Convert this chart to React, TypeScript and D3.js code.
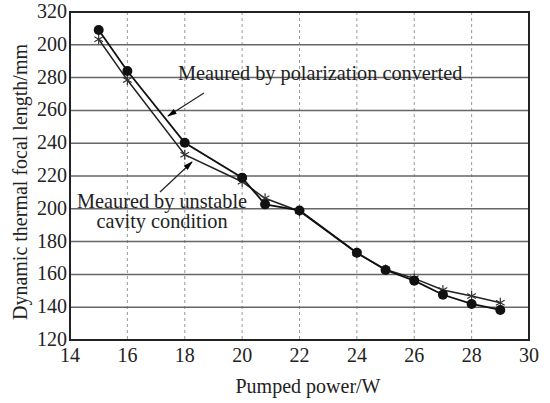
import React from "react";
import * as d3 from "d3";

const powerCircle = [15, 16, 18, 20, 20.8, 22, 24, 25, 26, 27, 28, 29];
const focalPolarization = [309, 284, 240.3, 219, 202.7, 199, 173.2, 162.7, 156.2, 147.6, 142, 138.3];
const powerStar = [15, 16, 18, 20, 20.8, 22, 24, 25, 26, 27, 28, 29];
const focalUnstable = [303.4, 278.5, 233, 216.5, 206.4, 198.5, 173, 163, 157.6, 150.5, 146.8, 142.7];
const xTicks = [14, 16, 18, 20, 22, 24, 26, 28, 30];
const yTicks = [120, 140, 160, 180, 200, 220, 240, 260, 280, 300, 320];
const yTickLabels = ["120", "140", "160", "180", "200", "220", "240", "260", "280", "200", "320"];

export default function App() {
  const W = 550, H = 403;
  const left = 70, right = 529, top = 12, bottom = 340;
  const x = d3.scaleLinear().domain([14, 30]).range([left, right]);
  const y = d3.scaleLinear().domain([120, 320]).range([bottom, top]);
  const line = d3.line<[number, number]>().x(d => x(d[0])).y(d => y(d[1]));
  const circ = powerCircle.map((p, i) => [p, focalPolarization[i]] as [number, number]);
  const star = powerStar.map((p, i) => [p, focalUnstable[i]] as [number, number]);
  const starPath = d3.symbol().type(d3.symbolAsterisk).size(70)() as string;
  const font = "Liberation Serif, Times New Roman, serif";
  const fs = 20;
  const fa = 20.3;
  return (
    <svg width={W} height={H} style={{ position: "absolute", left: 0, top: 0, fontFamily: font }}>
      <defs>
        <marker id="ah" viewBox="0 0 10 10" refX="9" refY="5" markerWidth="8" markerHeight="8" orient="auto">
          <path d="M0,2 L10,5 L0,8 Z" fill="#000" />
        </marker>
      </defs>
      <rect x={0} y={0} width={W} height={H} fill="#fff" />
      {xTicks.slice(1, -1).map(t => (
        <line key={"vx" + t} x1={x(t)} x2={x(t)} y1={top} y2={bottom} stroke="#999" strokeWidth={1} strokeDasharray="3,3" />
      ))}
      {yTicks.slice(1, -1).map(t => (
        <line key={"hy" + t} x1={left} x2={right} y1={y(t)} y2={y(t)} stroke="#666" strokeWidth={1.5} />
      ))}
      <rect x={left} y={top} width={right - left} height={bottom - top} fill="none" stroke="#222" strokeWidth={2} />
      {yTicks.map((t, i) => (
        <text key={"yl" + t} x={left - 3} y={y(t) - 1} dy="0.35em" textAnchor="end" fontSize={fs} fill="#222">{yTickLabels[i]}</text>
      ))}
      {xTicks.map(t => (
        <text key={"xl" + t} x={x(t)} y={362} textAnchor="middle" fontSize={fs} fill="#222">{t}</text>
      ))}
      <text x={308} y={393} textAnchor="middle" fontSize={fs} fill="#222">Pumped power/W</text>
      <text transform={`translate(27,182) rotate(-90)`} textAnchor="middle" fontSize={fs} fill="#222">Dynamic thermal focal length/mm</text>
      <path d={line(star) as string} fill="none" stroke="#222" strokeWidth={1.5} />
      <path d={line(circ) as string} fill="none" stroke="#111" strokeWidth={1.8} />
      {star.map((d, i) => (
        <path key={"s" + i} d={starPath} transform={`translate(${x(d[0])},${y(d[1])})`} fill="none" stroke="#333" strokeWidth={1.2} />
      ))}
      {circ.map((d, i) => (
        <circle key={"c" + i} cx={x(d[0])} cy={y(d[1])} r={5} fill="#111" />
      ))}
      <text x={178} y={80} fontSize={fa} fill="#222">Meaured by polarization converted</text>
      <line x1={204} y1={93} x2={168} y2={116} stroke="#222" strokeWidth={1.2} markerEnd="url(#ah)" />
      <text x={162} y={208} textAnchor="middle" fontSize={fa} fill="#222">Meaured by unstable</text>
      <text x={162} y={228} textAnchor="middle" fontSize={fa} fill="#222">cavity condition</text>
      <line x1={160} y1={192} x2={192} y2={162} stroke="#222" strokeWidth={1.2} markerEnd="url(#ah)" />
    </svg>
  );
}
